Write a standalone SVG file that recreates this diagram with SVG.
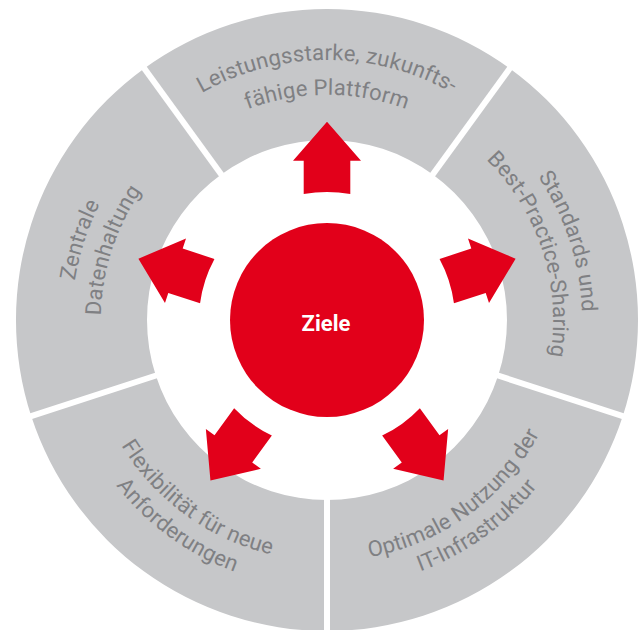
<svg xmlns="http://www.w3.org/2000/svg" xmlns:xlink="http://www.w3.org/1999/xlink" width="643" height="630" viewBox="0 0 643 630">
  <style>
    .seg { fill: #c6c7c9; }
    .sep { stroke: #ffffff; stroke-width: 6; }
    .lbl { font-family: Roboto, "Liberation Sans", sans-serif; font-size: 22px; letter-spacing: 0.2px; fill: #7f8083; }
    .arrow { fill: #e2001a; }
    .core { fill: #e2001a; }
    .core-lbl { font-family: Roboto, "Liberation Sans", sans-serif; font-size: 22px; font-weight: bold; fill: #ffffff; }
  </style>
  <defs>
    <!-- outward arrow, drawn pointing up; rotated about the centre (327,320) -->
    <path id="arrow-up" d="M 303.7 194.1 A 128 128 0 0 1 350.3 194.1 L 350.3 160.7 L 361 160.7 L 327 121.7 L 293 160.7 L 303.7 160.7 Z"/>
    <!-- baselines: upper half runs clockwise, lower half counter-clockwise -->
    <path id="p-top-1" d="M 75.9 275.7 A 254 254 0 0 1 578.1 275.7"/>
    <path id="p-top-2" d="M 105.4 280.9 A 225 225 0 0 1 548.6 280.9"/>
    <path id="p-right-1" d="M 291.5 67.5 A 255 255 0 0 1 446.7 545.2"/>
    <path id="p-right-2" d="M 295.6 96.2 A 226 226 0 0 1 433.1 519.6"/>
    <path id="p-left-1" d="M 207.3 545.2 A 255 255 0 0 1 362.5 67.5"/>
    <path id="p-left-2" d="M 220.9 519.6 A 226 226 0 0 1 358.5 96.2"/>
    <path id="p-br-1" d="M 159.6 493.4 A 241 241 0 0 0 543.6 214.4"/>
    <path id="p-br-2" d="M 140.8 512.8 A 268 268 0 0 0 567.9 202.5"/>
    <path id="p-bl-1" d="M 110.4 214.4 A 241 241 0 0 0 494.4 493.4"/>
    <path id="p-bl-2" d="M 86.1 202.5 A 268 268 0 0 0 513.2 512.8"/>
  </defs>

  <g id="seg-top">
    <path class="seg" d="M 144.2 68.4 A 311 311 0 0 1 509.8 68.4 L 432.8 174.4 A 180 180 0 0 0 221.2 174.4 Z"/>
    <text class="lbl" text-anchor="middle"><textPath xlink:href="#p-top-1" href="#p-top-1" startOffset="50%">Leistungsstarke, zukunfts-</textPath></text>
    <text class="lbl" text-anchor="middle"><textPath xlink:href="#p-top-2" href="#p-top-2" startOffset="50%">fähige Plattform</textPath></text>
  </g>
  <g id="seg-right">
    <path class="seg" d="M 509.8 68.4 A 311 311 0 0 1 622.8 416.1 L 498.2 375.6 A 180 180 0 0 0 432.8 174.4 Z"/>
    <text class="lbl" text-anchor="middle"><textPath xlink:href="#p-right-1" href="#p-right-1" startOffset="50%">Standards und</textPath></text>
    <text class="lbl" text-anchor="middle"><textPath xlink:href="#p-right-2" href="#p-right-2" startOffset="50%">Best-Practice-Sharing</textPath></text>
  </g>
  <g id="seg-bottom-right">
    <path class="seg" d="M 622.8 416.1 A 311 311 0 0 1 327 631 L 327 500 A 180 180 0 0 0 498.2 375.6 Z"/>
    <text class="lbl" text-anchor="middle"><textPath xlink:href="#p-br-1" href="#p-br-1" startOffset="50%">Optimale Nutzung der</textPath></text>
    <text class="lbl" text-anchor="middle"><textPath xlink:href="#p-br-2" href="#p-br-2" startOffset="50%">IT-Infrastruktur</textPath></text>
  </g>
  <g id="seg-bottom-left">
    <path class="seg" d="M 327 631 A 311 311 0 0 1 31.2 416.1 L 155.8 375.6 A 180 180 0 0 0 327 500 Z"/>
    <text class="lbl" text-anchor="middle"><textPath xlink:href="#p-bl-1" href="#p-bl-1" startOffset="50%">Flexibilität für neue</textPath></text>
    <text class="lbl" text-anchor="middle"><textPath xlink:href="#p-bl-2" href="#p-bl-2" startOffset="50%">Anforderungen</textPath></text>
  </g>
  <g id="seg-left">
    <path class="seg" d="M 31.2 416.1 A 311 311 0 0 1 144.2 68.4 L 221.2 174.4 A 180 180 0 0 0 155.8 375.6 Z"/>
    <text class="lbl" text-anchor="middle"><textPath xlink:href="#p-left-1" href="#p-left-1" startOffset="50%">Zentrale</textPath></text>
    <text class="lbl" text-anchor="middle"><textPath xlink:href="#p-left-2" href="#p-left-2" startOffset="50%">Datenhaltung</textPath></text>
  </g>

  <!-- white gaps between the ring segments -->
  <g id="separators" class="sep">
    <line x1="426.9" y1="182.5" x2="515.1" y2="61.1"/>
    <line x1="488.7" y1="372.5" x2="631.3" y2="418.9"/>
    <line x1="327" y1="490" x2="327" y2="640"/>
    <line x1="165.3" y1="372.5" x2="22.7" y2="418.9"/>
    <line x1="227.1" y1="182.5" x2="138.9" y2="61.1"/>
  </g>

  <g id="core">
    <circle class="core" cx="327" cy="320" r="97"/>
    <text class="core-lbl" x="326" y="331" text-anchor="middle">Ziele</text>
  </g>

  <g id="connectors" class="arrow">
    <use xlink:href="#arrow-up" href="#arrow-up"/>
    <use xlink:href="#arrow-up" href="#arrow-up" transform="rotate(72 327 320)"/>
    <use xlink:href="#arrow-up" href="#arrow-up" transform="rotate(144 327 320)"/>
    <use xlink:href="#arrow-up" href="#arrow-up" transform="rotate(216 327 320)"/>
    <use xlink:href="#arrow-up" href="#arrow-up" transform="rotate(288 327 320)"/>
  </g>
</svg>
